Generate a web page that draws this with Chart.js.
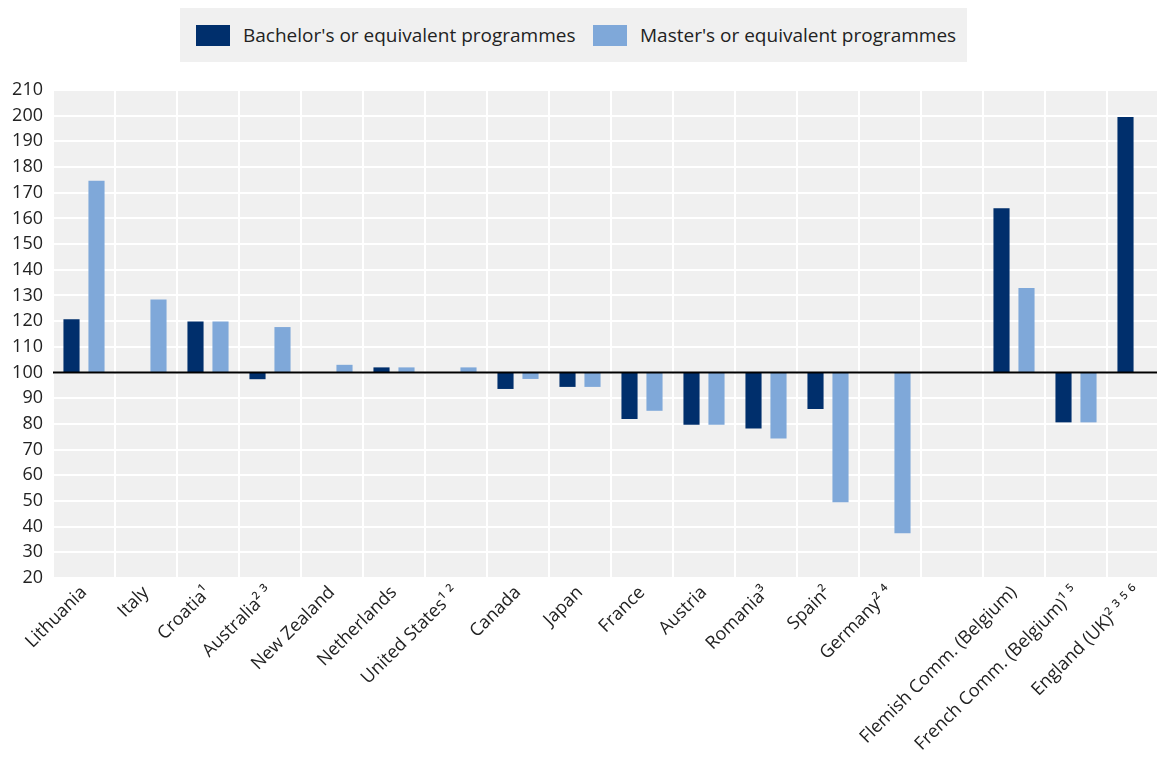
<!DOCTYPE html>
<html>
<head>
<meta charset="utf-8">
<script src="https://cdn.jsdelivr.net/npm/chart.js@4"></script>
<style>
  html, body { margin: 0; padding: 0; background: #ffffff; overflow: hidden; width: 1157px; height: 765px; }
  #wrap { position: relative; width: 1169px; height: 765px; }
  #legend { position: absolute; left: 180px; top: 8px; width: 787px; height: 54px; background: #f0f0f0;
            font-family: "Open Sans", "Noto Sans", sans-serif; font-size: 19px; color: #222; }
  .item { position: absolute; top: 0; height: 54px; display: flex; align-items: center; white-space: nowrap; }
  .sw { width: 34px; height: 21px; margin-right: 13px; }
  canvas { position: absolute; left: 0; top: 0; }
</style>
</head>
<body>
<div id="wrap">
  <canvas id="c" width="1169" height="765"></canvas>
  <div id="legend"></div>
</div>
<script>
const categories = ['Lithuania', 'Italy', 'Croatia\u00B9', 'Australia\u00B2 \u00B3', 'New Zealand', 'Netherlands',
  'United States\u00B9 \u00B2', 'Canada', 'Japan', 'France', 'Austria', 'Romania\u00B3', 'Spain\u00B2',
  'Germany\u00B2 \u2074', '', 'Flemish Comm. (Belgium)', 'French Comm. (Belgium)\u00B9 \u2075',
  'England (UK)\u00B2 \u00B3 \u2075 \u2076'];
const seriesNames = ["Bachelor's or equivalent programmes", "Master's or equivalent programmes"];
const bachelor = [120.7, null, 119.9, 97.4, null, 102, null, 93.6, 94.4, 81.9, 79.7, 78.2, 85.8, null, null, 164, 80.6, 199.5];
const master   = [174.7, 128.4, 119.9, 117.7, 103, 102, 102, 97.5, 94.4, 85.1, 79.7, 74.3, 49.5, 37.4, null, 132.9, 80.6, null];
const baseline = 100;
const yTicks = { min: 20, max: 210, step: 10 };
const colors = ['#002f6c', '#7fa8d9'];

const toFloating = arr => arr.map(v => v == null ? null : [baseline, v]);

const bgPlugin = {
  id: 'bg',
  beforeDraw(chart) {
    const { ctx, chartArea: a } = chart;
    ctx.save();
    ctx.fillStyle = '#f0f0f0';
    ctx.fillRect(a.left, a.top, a.right - a.left, a.bottom - a.top);
    ctx.restore();
  },
  afterDatasetsDraw(chart) {
    const { ctx, chartArea: a } = chart;
    const y = chart.scales.y.getPixelForValue(baseline);
    ctx.save();
    ctx.strokeStyle = '#000';
    ctx.lineWidth = 2;
    ctx.beginPath();
    ctx.moveTo(a.left, y);
    ctx.lineTo(a.right, y);
    ctx.stroke();
    ctx.restore();
  }
};

const chart = new Chart(document.getElementById('c'), {
  type: 'bar',
  data: {
    labels: categories,
    datasets: [
      { label: seriesNames[0], data: toFloating(bachelor), backgroundColor: colors[0] },
      { label: seriesNames[1], data: toFloating(master), backgroundColor: colors[1] }
    ]
  },
  options: {
    responsive: false,
    animation: false,
    categoryPercentage: 0.806,
    barPercentage: 0.645,
    layout: { padding: { top: 90, right: 0, bottom: 0, left: 0 } },
    plugins: { legend: { display: false }, tooltip: { enabled: false } },
    scales: {
      x: {
        grid: { color: '#ffffff', lineWidth: 2, drawTicks: false, offset: true },
        border: { display: false },
        ticks: {
          color: '#222', minRotation: 45, maxRotation: 45, autoSkip: false, padding: 4,
          font: { family: '"Open Sans", "Noto Sans", sans-serif', size: 18 }
        },
        afterFit(scale) { scale.height = 187; }
      },
      y: {
        min: yTicks.min, max: yTicks.max,
        grid: { color: '#ffffff', lineWidth: 2, drawTicks: false },
        border: { display: false },
        ticks: {
          stepSize: yTicks.step, color: '#222', padding: 10,
          font: { family: '"Open Sans", "Noto Sans", sans-serif', size: 18 }
        },
        afterFit(scale) { scale.width = 53; }
      }
    }
  },
  plugins: [bgPlugin]
});

// HTML legend built from datasets
const legend = document.getElementById('legend');
const lefts = [16, 413];
chart.data.datasets.forEach((ds, i) => {
  const it = document.createElement('div');
  it.className = 'item';
  it.style.left = lefts[i] + 'px';
  const sw = document.createElement('span');
  sw.className = 'sw';
  sw.style.background = ds.backgroundColor;
  const tx = document.createElement('span');
  tx.textContent = ds.label;
  it.appendChild(sw); it.appendChild(tx);
  legend.appendChild(it);
});
</script>
</body>
</html>
